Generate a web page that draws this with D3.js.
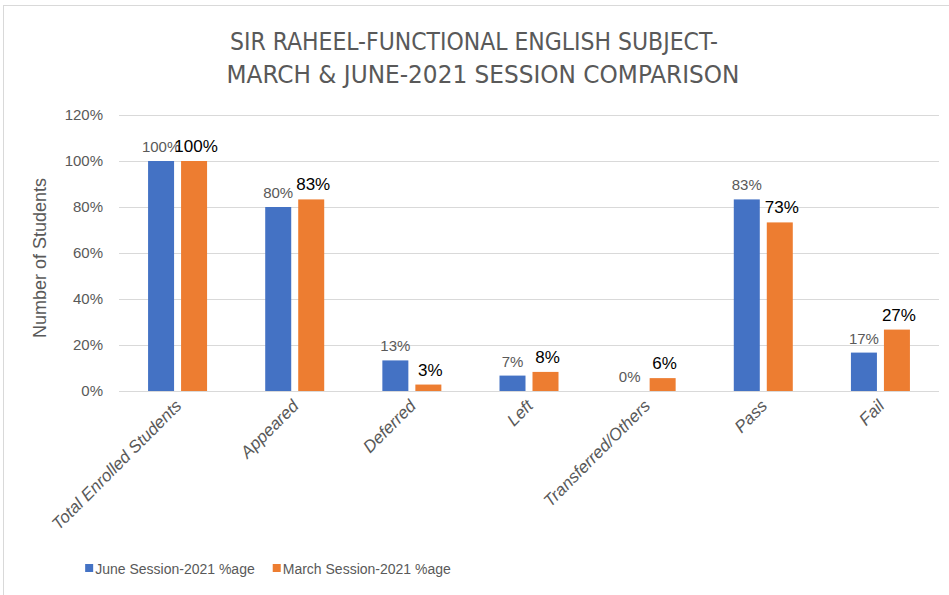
<!DOCTYPE html>
<html>
<head>
<meta charset="utf-8">
<script src="https://cdn.jsdelivr.net/npm/d3@7"></script>
<style>
  body { margin: 0; background: #fff; }
  svg text { font-family: "Liberation Sans", Arial, sans-serif; }
  .narrow { font-family: "Liberation Sans Narrow", "DejaVu Sans Condensed", sans-serif; }
</style>
</head>
<body>
<svg id="chart" width="949" height="595"></svg>
<script>
// Chart data
const categories = ["Total Enrolled Students", "Appeared", "Deferred", "Left", "Transferred/Others", "Pass", "Fail"];
const juneValues = [1.0, 0.80, 0.133, 0.067, 0.0, 0.833, 0.167];
const marchValues = [1.0, 0.833, 0.028, 0.083, 0.056, 0.733, 0.267];
const seriesNames = ["June Session-2021 %age", "March Session-2021 %age"];
const yTicks = [0, 0.2, 0.4, 0.6, 0.8, 1.0, 1.2];
const titleLines = ["SIR RAHEEL-FUNCTIONAL ENGLISH SUBJECT-", "MARCH & JUNE-2021 SESSION COMPARISON"];

const colours = ["#4472C4", "#ED7D31"];
const margin = { top: 115, right: 10, bottom: 204, left: 119 };
const width = 949 - margin.left - margin.right;
const height = 595 - margin.top - margin.bottom;

const svg = d3.select("#chart");

// Outer chart frame
svg.append("rect")
    .attr("x", 3.5).attr("y", 5.5)
    .attr("width", 960).attr("height", 600)
    .attr("fill", "none")
    .attr("stroke", "#d9d9d9");

// Title
svg.append("text")
    .attr("class", "narrow")
    .attr("x", 480).attr("y", 50)
    .attr("text-anchor", "middle")
    .attr("fill", "#595959")
    .style("font-size", "25px")
    .selectAll("tspan")
    .data(titleLines)
    .join("tspan")
    .attr("x", (d, i) => i === 0 ? 474 : 483)
    .attr("dy", (d, i) => i === 0 ? 0 : 33)
    .attr("textLength", (d, i) => i === 0 ? 488 : 513)
    .attr("lengthAdjust", "spacingAndGlyphs")
    .text(d => d);

const g = svg.append("g").attr("transform", `translate(${margin.left}, ${margin.top})`);

const xScale = d3.scaleBand().domain(categories).range([0, width]);
const yScale = d3.scaleLinear().domain([0, 1.2]).range([height, 0]);

// Gridlines
g.append("g")
    .selectAll("line")
    .data(yTicks)
    .join("line")
    .attr("x1", 0).attr("x2", width)
    .attr("y1", d => Math.round(yScale(d)) + 0.5)
    .attr("y2", d => Math.round(yScale(d)) + 0.5)
    .attr("stroke", "#d9d9d9")
    .attr("stroke-width", 1);

// Y axis
const yAxis = d3.axisLeft(yScale).tickValues(yTicks).tickFormat(d3.format(".0%")).tickSize(0).tickPadding(16);
g.append("g")
    .attr("class", "y-axis")
    .call(yAxis)
    .call(s => s.select(".domain").remove())
    .selectAll("text")
    .attr("fill", "#595959")
    .style("font-size", "15px");

// X axis labels (rotated)
const xAxis = d3.axisBottom(xScale).tickSize(0).tickPadding(0);
g.append("g")
    .attr("class", "x-axis")
    .attr("transform", `translate(0, ${height})`)
    .call(xAxis)
    .call(s => s.select(".domain").remove())
    .selectAll("text")
    .attr("fill", "#595959")
    .style("font-size", "17px")
    .style("font-style", "italic")
    .attr("text-anchor", "end")
    .attr("dy", 0)
    .attr("transform", "translate(5, 16) rotate(-45)");

// Bars
const barWidth = 26;
const offsets = [-16.5, 16.5];
const series = [juneValues, marchValues];

series.forEach((values, s) => {
    g.append("g")
        .selectAll("rect")
        .data(values)
        .join("rect")
        .attr("x", (d, i) => xScale(categories[i]) + xScale.bandwidth() / 2 + offsets[s] - barWidth / 2)
        .attr("y", d => yScale(d))
        .attr("width", barWidth)
        .attr("height", d => height - yScale(d))
        .attr("fill", colours[s]);
});

// Data labels
g.append("g")
    .selectAll("text")
    .data(juneValues)
    .join("text")
    .attr("x", (d, i) => xScale(categories[i]) + xScale.bandwidth() / 2 + offsets[0])
    .attr("y", d => yScale(d) - 9)
    .attr("text-anchor", "middle")
    .attr("fill", "#595959")
    .style("font-size", "15px")
    .text(d => d3.format(".0%")(d));

g.append("g")
    .selectAll("text")
    .data(marchValues)
    .join("text")
    .attr("x", (d, i) => xScale(categories[i]) + xScale.bandwidth() / 2 + offsets[1] + 2)
    .attr("y", d => yScale(d) - 9)
    .attr("text-anchor", "middle")
    .attr("fill", "#000")
    .style("font-size", "17px")
    .text(d => d3.format(".0%")(d));

// Y axis title
svg.append("text")
    .attr("transform", "translate(46, 258) rotate(-90)")
    .attr("text-anchor", "middle")
    .attr("fill", "#595959")
    .style("font-size", "18px")
    .text("Number of Students");

// Legend: lay items out from measured text widths, centred on the reference position
const legend = svg.append("g");
const items = seriesNames.map((name, i) => {
    const item = legend.append("g");
    item.append("rect")
        .attr("x", 0).attr("y", -10)
        .attr("width", 8).attr("height", 8)
        .attr("fill", colours[i]);
    const t = item.append("text")
        .attr("x", 10).attr("y", 0)
        .attr("fill", "#595959")
        .style("font-size", "14px")
        .text(name);
    return { item, w: 10 + t.node().getComputedTextLength() };
});
const gap = 18;
const total = d3.sum(items, d => d.w) + gap * (items.length - 1);
let lx = 268 - total / 2;
items.forEach(d => {
    d.item.attr("transform", `translate(${lx}, 574)`);
    lx += d.w + gap;
});
</script>
</body>
</html>
